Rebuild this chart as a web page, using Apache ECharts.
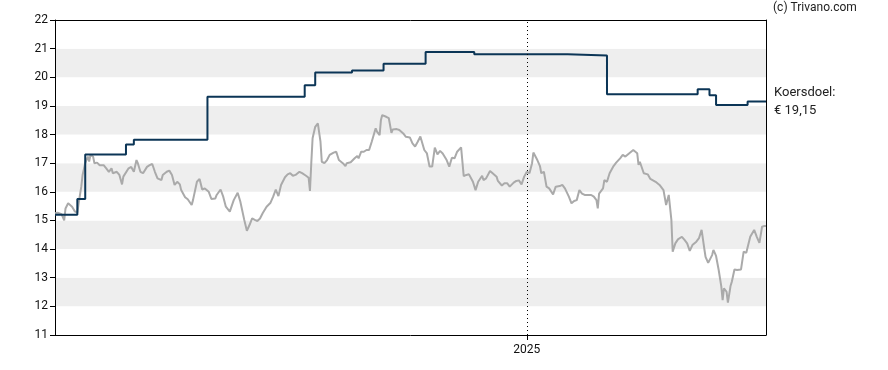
<!DOCTYPE html>
<html>
<head>
<meta charset="utf-8">
<script src="https://cdn.jsdelivr.net/npm/echarts@6/dist/echarts.min.js"></script>
<style>
html,body{margin:0;padding:0;background:#fff;}
#chart{width:888px;height:370px;}
</style>
</head>
<body>
<div id="chart"></div>
<script>
// ---- data ----
const startDate = '2024-01-08';
const endDate = '2025-07-02';
// price: day offset from startDate, closing value
const priceDay = [0,2,5,7,8,10,11,13,15,17,18,20,21,23,25,26,27,29,30,32,34,37,39,41,43,44,47,49,51,52,56,57,58,60,62,63,65,67,70,72,74,76,78,81,82,85,87,89,91,93,95,96,99,101,104,105,108,110,112,114,117,119,122,123,126,128,130,133,134,136,139,141,144,146,148,150,152,154,156,158,161,164,166,168,170,172,175,177,179,181,183,186,188,191,193,194,195,196,198,200,201,202,203,205,207,209,212,214,216,219,221,222,225,228,230,231,233,235,237,239,241,244,245,247,248,249,252,254,256,257,260,262,265,267,270,272,274,276,278,281,283,285,287,289,291,293,295,298,300,302,304,306,309,311,313,315,318,320,322,325,326,328,331,333,336,337,340,342,344,346,349,351,353,355,357,359,361,363,364,365,367,369,370,372,374,376,377,379,381,384,386,388,391,393,395,397,399,401,403,405,408,410,412,413,414,417,418,420,422,425,427,430,432,434,437,440,441,443,444,445,448,451,453,457,460,463,465,467,468,469,470,472,474,477,479,481,483,485,488,490,492,494,495,497,500,501,503,505,507,508,509,511,512,514,515,517,519,522,524,526,529,532,534,536,538,540,541];
const priceValue = [15.25,15.27,15.22,15.0,15.42,15.6,15.62,15.48,15.32,15.27,15.6,16.18,16.59,17.0,17.23,17.06,17.29,17.23,17.0,17.02,16.93,16.93,16.82,16.7,16.82,16.65,16.7,16.59,16.26,16.53,16.82,16.76,16.87,16.7,17.11,17.0,16.7,16.65,16.87,16.93,16.97,16.7,16.47,16.41,16.59,16.7,16.74,16.59,16.24,16.35,16.26,16.06,15.81,15.74,15.54,15.71,16.35,16.45,16.08,16.12,16.0,15.75,15.77,15.89,16.08,15.83,15.48,15.31,15.37,15.71,15.97,15.66,15.02,14.64,14.84,15.07,15.02,14.98,15.07,15.25,15.48,15.62,15.83,16.08,15.85,16.24,16.51,16.61,16.65,16.56,16.59,16.7,16.65,16.56,16.49,16.03,17.0,17.87,18.27,18.39,18.39,17.75,17.05,17.0,17.11,17.29,17.37,17.4,17.11,17.0,16.9,17.0,17.03,17.17,17.25,17.17,17.4,17.4,17.46,17.46,17.75,18.22,18.1,17.98,18.51,18.68,18.62,18.57,18.06,18.18,18.19,18.16,18.04,17.92,17.9,17.69,17.58,17.75,17.93,17.46,17.34,16.88,16.88,17.54,17.31,17.43,17.34,17.11,16.88,17.19,17.17,17.4,17.55,16.55,16.59,16.61,16.35,16.06,16.35,16.56,16.41,16.47,16.73,16.65,16.53,16.38,16.22,16.3,16.3,16.18,16.32,16.38,16.4,16.26,16.53,16.7,16.65,17.0,17.37,17.32,17.11,16.9,16.65,16.7,16.18,16.12,16.16,15.91,16.18,16.2,16.24,16.12,15.83,15.6,15.68,15.71,16.06,15.94,15.89,15.89,15.89,15.83,15.71,15.42,15.94,16.12,16.41,16.35,16.65,16.9,17.02,17.17,17.29,17.23,17.35,17.46,17.48,17.35,16.94,17.05,16.65,16.61,16.45,16.35,16.24,16.06,15.54,15.89,15.95,15.02,13.91,14.2,14.34,14.43,14.32,14.2,13.94,14.14,14.26,14.38,14.67,14.03,13.73,13.52,13.79,13.97,13.76,13.27,12.69,12.22,12.63,12.51,12.13,12.71,12.86,13.29,13.27,13.29,13.91,13.87,14.43,14.67,14.43,14.22,14.78,14.81,14.81];
// koersdoel (price target) changes
const targetDates = ['2024-01-08','2024-01-25','2024-01-31','2024-03-02','2024-03-08','2024-05-03','2024-07-16','2024-07-24','2024-08-21','2024-09-14','2024-10-16','2024-11-22','2025-02-01','2025-03-03','2025-05-11','2025-05-20','2025-05-25','2025-06-18','2025-07-02'];
const targetValues = [15.2,15.75,17.3,17.65,17.82,19.32,19.72,20.17,20.24,20.47,20.88,20.8,20.76,19.41,19.58,19.37,19.03,19.15,19.15];
const yTicks = [11,12,13,14,15,16,17,18,19,20,21,22];
const yearTickDate = '2025-01-01';
const yearTickLabel = '2025';
const copyrightText = '(c) Trivano.com';
const targetLabel = 'Koersdoel:';

// ---- helpers ----
function parseDay(s){ const p = s.split('-').map(Number); return new Date(p[0], p[1]-1, p[2]).getTime(); }
function offsetDay(d){ const p = startDate.split('-').map(Number); return new Date(p[0], p[1]-1, p[2] + d).getTime(); }

const priceData = priceDay.map((d,i)=>[offsetDay(d), priceValue[i]]);
const targetData = targetDates.map((s,i)=>[parseDay(s), targetValues[i]]);
const xMin = parseDay(startDate), xMax = parseDay(endDate);
const yearTs = parseDay(yearTickDate);

const FONT = 'Roboto';
const chart = echarts.init(document.getElementById('chart'), null, {renderer:'canvas'});
chart.setOption({
  animation: false,
  backgroundColor: '#ffffff',
  textStyle: {fontFamily: FONT},
  grid: {left: 55, right: 122, top: 20, bottom: 35, containLabel: false},
  graphic: [{
    type: 'text', left: 773, top: 2,
    style: {text: copyrightText, font: '12px ' + FONT, fill: '#222'}
  }],
  xAxis: [{
    type: 'value', min: xMin, max: xMax, scale: true,
    axisLine: {show: true, lineStyle: {color: '#000', width: 1}},
    axisTick: {show: true, length: 5, lineStyle: {color: '#000'}, customValues: [yearTs]},
    axisLabel: {show: true, customValues: [yearTs], formatter: () => yearTickLabel, color: '#111', fontSize: 12, margin: 9, fontFamily: FONT},
    splitLine: {show: false}
  },{
    type: 'value', min: xMin, max: xMax, scale: true, position: 'top',
    axisLine: {show: true, onZero: false, lineStyle: {color: '#000', width: 1}},
    axisTick: {show: false}, axisLabel: {show: false}, splitLine: {show: false}
  }],
  yAxis: [{
    type: 'value', min: yTicks[0], max: yTicks[yTicks.length-1], interval: 1,
    axisLine: {show: true, lineStyle: {color: '#000', width: 1}},
    axisTick: {show: true, length: 5, lineStyle: {color: '#000'}},
    axisLabel: {color: '#111', fontSize: 12, margin: 7, fontFamily: FONT},
    splitLine: {show: false},
    splitArea: {show: true, areaStyle: {color: ['#ffffff', '#eeeeee']}}
  },{
    type: 'value', min: yTicks[0], max: yTicks[yTicks.length-1], interval: 1, position: 'right',
    axisLine: {show: true, onZero: false, lineStyle: {color: '#000', width: 1}},
    axisTick: {show: false}, axisLabel: {show: false}, splitLine: {show: false}, splitArea: {show: false}
  }],
  series: [{
    name: 'Koers', type: 'line', data: priceData, showSymbol: false, symbol: 'none',
    lineStyle: {color: '#aaaaaa', width: 2}, z: 2,
    markLine: {
      silent: true, symbol: ['none','none'],
      lineStyle: {color: '#000', type: [1, 3], width: 1},
      label: {show: false},
      data: [{xAxis: yearTs}]
    }
  },{
    name: 'Koersdoel', type: 'line', data: targetData, step: 'end', showSymbol: false, symbol: 'none',
    lineStyle: {color: '#0b3556', width: 2}, z: 3,
    endLabel: {
      show: true, distance: 8, color: '#222', fontSize: 13, lineHeight: 18, fontFamily: FONT,
      formatter: p => targetLabel + '\n€ ' + p.value[1].toFixed(2).replace('.', ',')
    }
  }]
});
</script>
</body>
</html>
